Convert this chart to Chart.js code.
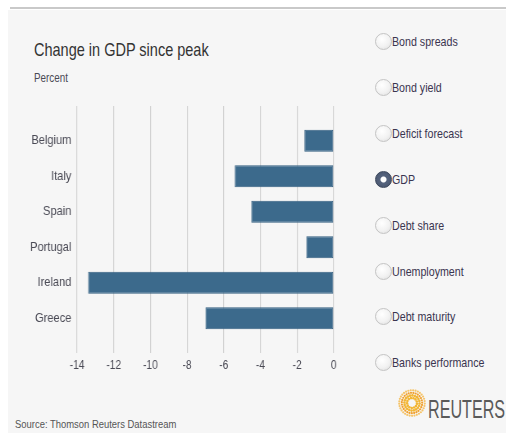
<!DOCTYPE html>
<html>
<head>
<meta charset="utf-8">
<script src="https://cdn.jsdelivr.net/npm/chart.js@4"></script>
<style>
  body { margin: 0; width: 506px; height: 433px; background: #fff; overflow: hidden;
         font-family: "Liberation Sans", Arial, sans-serif; }
  #panel { position: absolute; left: 8px; top: 10px; width: 498px; height: 423px; background: #f6f6f6; }
  #topline { position: absolute; left: 10px; top: 7px; width: 496px; height: 2px; background: #c9c9c9; }
  .narrow { transform: scaleX(0.82); transform-origin: left top; white-space: nowrap; }
  #title { position: absolute; left: 34px; top: 40px; font-size: 17.7px; color: #333; }
  #unit { position: absolute; left: 34px; top: 71px; font-size: 12px; color: #4a4a55; }
  #wrap { position: absolute; left: 0; top: 95px; width: 427px; height: 285px;
          transform: scaleX(0.82); transform-origin: left top; }
  .opt { position: absolute; left: 375px; height: 18px; font-size: 13px; color: #3a3550; line-height: 18px; }
  .opt i { position: absolute; left: 0; top: 0; width: 15px; height: 15px; border-radius: 50%;
           border: 1px solid #c4c4c4; background: radial-gradient(circle at 40% 35%, #fff 0%, #f2f2f2 55%, #dcdcdc 100%); }
  .opt span { position: absolute; left: 17px; }
  .opt.on i { background: radial-gradient(circle, #fff 0 2.5px, #55637d 3.5px, #46536c 100%); border-color: #3c475c; }
  #source { position: absolute; left: 15px; top: 418px; font-size: 11.5px; color: #555; }
  #logo { position: absolute; left: 398px; top: 389px; }
  #brand { position: absolute; left: 428px; top: 394px; font-size: 26px; color: #5a5a5a;
           white-space: nowrap; transform: scaleX(0.62); transform-origin: left top; }
</style>
</head>
<body>
<div id="panel"></div>
<div id="topline"></div>
<div id="title" class="narrow">Change in GDP since peak</div>
<div id="unit" class="narrow">Percent</div>
<div id="wrap"><canvas id="chart"></canvas></div>
<div id="options"></div>
<div id="source" class="narrow">Source: Thomson Reuters Datastream</div>
<canvas id="logo" width="28" height="28"></canvas>
<div id="brand">REUTERS</div>
<script>
const countries = ['Belgium', 'Italy', 'Spain', 'Portugal', 'Ireland', 'Greece'];
const gdpChange = [-1.6, -5.4, -4.5, -1.5, -13.4, -7.0];
const xTicks = [-14, -12, -10, -8, -6, -4, -2, 0];
const menuItems = ['Bond spreads', 'Bond yield', 'Deficit forecast', 'GDP', 'Debt share',
                   'Unemployment', 'Debt maturity', 'Banks performance'];
const selected = 'GDP';

// side menu of radio buttons
const opts = document.getElementById('options');
menuItems.forEach((name, i) => {
  const d = document.createElement('div');
  d.className = 'opt' + (name === selected ? ' on' : '');
  d.style.top = (33 + i * 45.9) + 'px';
  d.innerHTML = '<i></i><span class="narrow">' + name + '</span>';
  opts.appendChild(d);
});

// little dotted ring next to the wordmark
const lg = document.getElementById('logo').getContext('2d');
for (let r = 5; r <= 13; r += 2.6) {
  const n = Math.round(r * 2.6);
  for (let k = 0; k < n; k++) {
    const a = k / n * Math.PI * 2 + r;
    lg.beginPath();
    lg.fillStyle = r < 8 ? '#f2b636' : (r < 11 ? '#f0a030' : '#f5c46a');
    lg.arc(14 + Math.cos(a) * r, 14 + Math.sin(a) * r, r < 8 ? 1.3 : 1.1, 0, Math.PI * 2);
    lg.fill();
  }
}

// the canvas is drawn wide and squeezed by the wrapper, giving condensed labels
const font = { family: '"Liberation Sans", Arial, sans-serif' };
const gridColor = '#d2d2d2';

new Chart(document.getElementById('chart'), {
  type: 'bar',
  data: {
    labels: countries,
    datasets: [{
      data: gdpChange,
      backgroundColor: '#3c6a8c',
      borderColor: '#335f80',
      borderWidth: 1,
      borderSkipped: false,
      categoryPercentage: 1,
      barPercentage: 0.62
    }]
  },
  options: {
    indexAxis: 'y',
    responsive: true,
    maintainAspectRatio: false,
    animation: false,
    layout: { padding: { top: 11, left: 0, right: 20, bottom: 0 } },
    plugins: { legend: { display: false }, tooltip: { enabled: false } },
    scales: {
      x: {
        type: 'linear', position: 'bottom', min: -14, max: 0,
        afterBuildTicks: s => { s.ticks = xTicks.map(v => ({ value: v })); },
        grid: { color: gridColor, lineWidth: 1.2, tickLength: 17, tickColor: gridColor },
        border: { display: false },
        ticks: { padding: 5, color: '#4a4a55', font: { ...font, size: 12.5 } },
        afterFit: s => { s.height = 44; }
      },
      xTop: {
        type: 'linear', position: 'top', min: -14, max: 0, axis: 'x',
        afterBuildTicks: s => { s.ticks = xTicks.map(v => ({ value: v })); },
        grid: { color: gridColor, lineWidth: 1.2, tickLength: 17, tickColor: gridColor, drawOnChartArea: false },
        border: { display: false },
        ticks: { display: false },
        afterFit: s => { s.height = 17; }
      },
      y: {
        offset: true,
        grid: { display: false, drawTicks: false },
        border: { display: false },
        ticks: { padding: 7, color: '#4a4a55', font: { ...font, size: 13.5 } },
        afterFit: s => { s.width = 94; }
      }
    }
  }
});
</script>
</body>
</html>
